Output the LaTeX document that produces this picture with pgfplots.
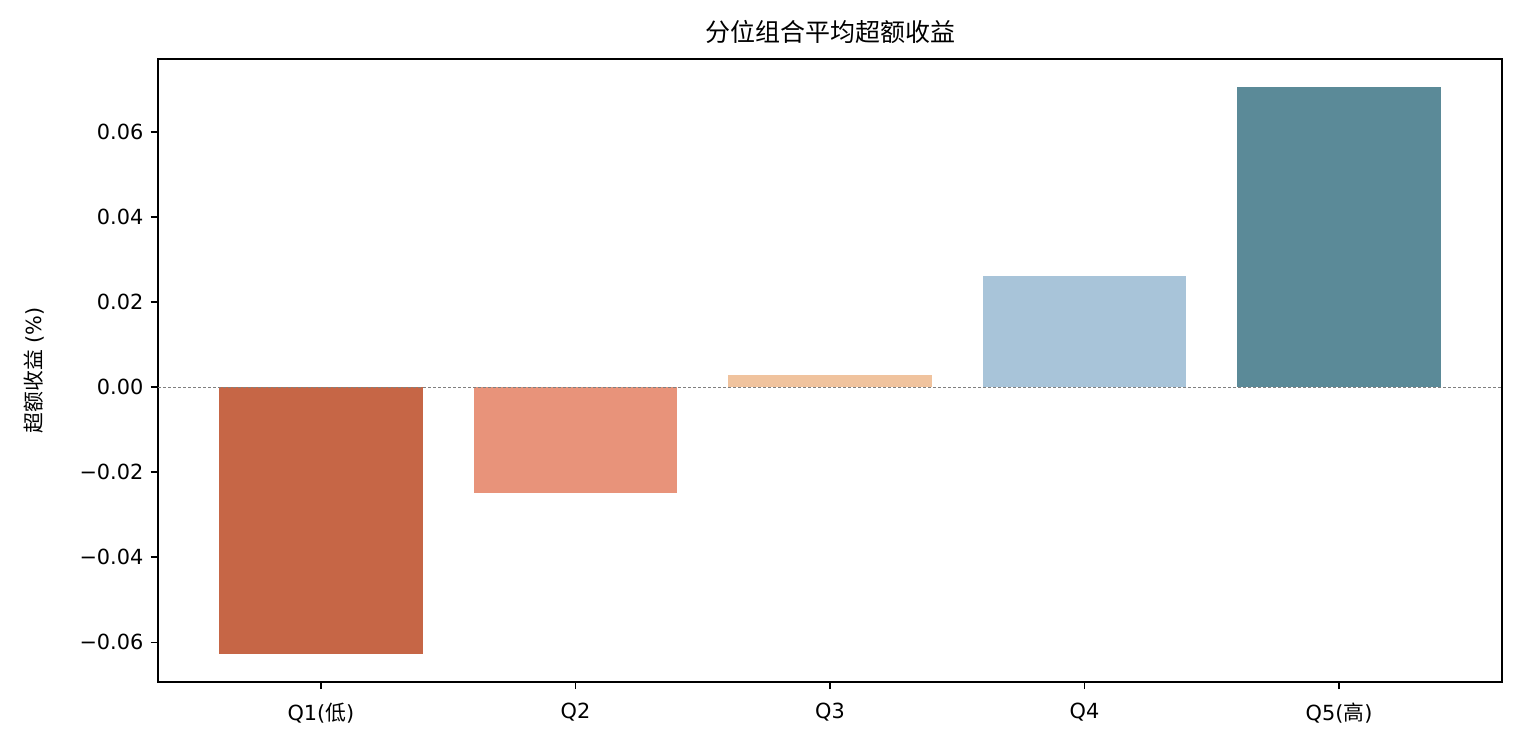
\documentclass[border=0pt]{standalone}
\usepackage{pgfplots}
\pgfplotsset{compat=1.18}
\usepackage{fontspec}
\setmainfont{DejaVu Sans}
\newfontfamily\cjk{Noto Sans CJK SC}
\definecolor{cA}{HTML}{C66646}
\definecolor{cB}{HTML}{E8937A}
\definecolor{cC}{HTML}{F0C39E}
\definecolor{cD}{HTML}{A8C4D9}
\definecolor{cE}{HTML}{5B8A98}
\begin{document}
\begin{tikzpicture}
\begin{axis}[
  scale only axis,
  width=645.1pt, height=299.0pt,
  xmin=-0.64, xmax=4.64,
  ymin=-0.0693, ymax=0.0771,
  scaled y ticks=false,
  xtick={0,1,2,3,4},
  xticklabels={Q1({\cjk 低}),Q2,Q3,Q4,Q5({\cjk 高})},
  ytick={-0.06,-0.04,-0.02,0,0.02,0.04,0.06},
  yticklabels={−0.06,−0.04,−0.02,0.00,0.02,0.04,0.06},
  tick style={black, line width=0.8pt},
  major tick length=3.5pt,
  tick align=outside,
  xtick pos=bottom, ytick pos=left,
  axis line style={line width=0.8pt},
  ticklabel style={font=\fontsize{10}{12}\selectfont},
  xticklabel style={yshift=-3pt},
  ylabel={{\cjk 超额收益} (\%)},
  ylabel style={font=\fontsize{10}{12}\selectfont},
  ylabel shift=10pt,
  title={\cjk 分位组合平均超额收益},
  title style={font=\fontsize{12}{14}\selectfont, yshift=-2pt},
  clip=false,
]
\addplot[ybar, bar width=0.8, bar shift=0pt, fill=cA, draw=none] coordinates {(0,-0.0627)};
\addplot[ybar, bar width=0.8, bar shift=0pt, fill=cB, draw=none] coordinates {(1,-0.0248)};
\addplot[ybar, bar width=0.8, bar shift=0pt, fill=cC, draw=none] coordinates {(2,0.0028)};
\addplot[ybar, bar width=0.8, bar shift=0pt, fill=cD, draw=none] coordinates {(3,0.0261)};
\addplot[ybar, bar width=0.8, bar shift=0pt, fill=cE, draw=none] coordinates {(4,0.0704)};
\addplot[gray, line width=0.4pt, dash pattern=on 1.6pt off 0.8pt] coordinates {(-0.64,0) (4.64,0)};
\end{axis}
\pgfresetboundingbox
\path ([xshift=-75.84pt,yshift=-31.2pt]current axis.south west) rectangle ([xshift=8.64pt,yshift=28.3pt]current axis.north east);
\end{tikzpicture}
\end{document}
